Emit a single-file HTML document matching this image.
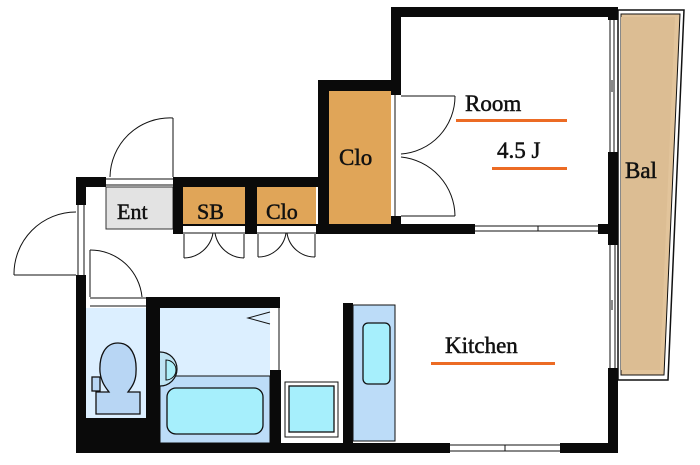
<!DOCTYPE html>
<html><head><meta charset="utf-8"><style>
html,body{margin:0;padding:0;background:#fff;}
svg{display:block;}
text{font-family:"Liberation Serif",serif;fill:#111;stroke:#111;stroke-width:0.5;}
</style></head><body>
<svg width="700" height="465" viewBox="0 0 700 465" xmlns="http://www.w3.org/2000/svg">
<polygon points="618,10 684,10 668,380 618,380" fill="#fff" stroke="#111" stroke-width="1.5"/>
<polygon points="621,14 680,14 664,375 621,375" fill="#e2c49b" stroke="#111" stroke-width="1"/>
<polygon points="621,17 675,17 660,370 621,370" fill="#dcbd93"/>
<rect x="329" y="91" width="62" height="133" fill="#e0a558"/>
<rect x="183" y="187" width="62" height="37" fill="#e0a558"/>
<rect x="257" y="187" width="59" height="37" fill="#e0a558"/>
<rect x="106" y="187" width="67" height="42" fill="#e3e3e3" stroke="#333" stroke-width="1"/>
<rect x="86" y="308" width="62" height="110" fill="#dcefff"/>
<rect x="160" y="308" width="110" height="135" fill="#dcefff"/>
<rect x="160" y="376" width="110" height="67" fill="#bcdcf8" stroke="#111" stroke-width="1"/>
<g fill="#0a0a0a">
<rect x="391" y="7" width="227" height="10"/>
<rect x="391" y="7" width="10" height="88"/>
<rect x="391" y="216" width="10" height="10"/>
<rect x="318" y="80" width="83" height="11"/>
<rect x="318" y="80" width="11" height="154"/>
<rect x="608" y="7" width="10" height="13"/>
<rect x="608" y="152" width="10" height="81"/>
<rect x="316" y="224" width="159" height="10"/>
<rect x="598" y="224" width="20" height="10"/>
<rect x="76" y="177" width="30" height="10"/>
<rect x="173" y="177" width="145" height="10"/>
<rect x="173" y="177" width="10" height="57"/>
<rect x="245" y="177" width="12" height="57"/>
<rect x="173" y="224" width="145" height="2"/>
<rect x="76" y="177" width="10" height="28"/>
<rect x="76" y="275" width="10" height="178"/>
<rect x="146" y="297" width="134" height="11"/>
<rect x="146" y="297" width="14" height="150"/>
<rect x="270" y="370" width="11" height="75"/>
<rect x="86" y="418" width="62" height="35"/>
<rect x="76" y="443" width="374" height="10"/>
<rect x="560" y="443" width="58" height="10"/>
<rect x="608" y="233" width="10" height="12"/>
<rect x="608" y="368" width="10" height="85"/>
<rect x="343" y="303" width="10" height="142"/>
</g>
<g stroke="#111" stroke-width="1" fill="none">
<line x1="610" y1="20" x2="610" y2="152"/><line x1="614" y1="20" x2="614" y2="152"/>
<line x1="612" y1="80" x2="612" y2="92"/>
<line x1="475" y1="226" x2="598" y2="226"/><line x1="475" y1="231" x2="598" y2="231"/>
<line x1="538" y1="226" x2="538" y2="231"/>
<line x1="610" y1="245" x2="610" y2="368"/><line x1="615" y1="245" x2="615" y2="368"/>
<line x1="612" y1="300" x2="612" y2="310"/>
<line x1="450" y1="445" x2="560" y2="445"/><line x1="450" y1="451" x2="560" y2="451"/>
<line x1="505" y1="445" x2="505" y2="451"/>
<line x1="279" y1="308" x2="279" y2="370"/>
<line x1="401" y1="96" x2="455" y2="96"/>
<path d="M455,96 A58,58 0 0 1 401,154"/>
<line x1="401" y1="216" x2="455" y2="216"/>
<path d="M455,216 A60,60 0 0 0 401,157"/>
<line x1="395" y1="95" x2="395" y2="216"/>
<line x1="173" y1="177" x2="173" y2="118"/>
<path d="M173,118 A60,60 0 0 0 110,177"/>
<line x1="106" y1="179" x2="173" y2="179"/><line x1="106" y1="185" x2="173" y2="185"/>
<line x1="14" y1="275" x2="76" y2="275"/>
<path d="M14,275 A62,62 0 0 1 76,212"/>
<line x1="78" y1="205" x2="78" y2="275"/><line x1="84" y1="205" x2="84" y2="275"/>
<line x1="90" y1="297" x2="90" y2="250"/>
<path d="M90,250 A52,52 0 0 1 142,297"/>
<line x1="90" y1="298" x2="146" y2="298"/><line x1="90" y1="306" x2="146" y2="306"/>
<line x1="183" y1="233" x2="245" y2="233"/>
<path d="M184,258 A30,30 0 0 0 213,233"/><path d="M244,258 A30,30 0 0 1 215,233"/>
<line x1="184" y1="234" x2="184" y2="258"/><line x1="244" y1="234" x2="244" y2="258"/>
<line x1="257" y1="233" x2="316" y2="233"/>
<path d="M258,257 A28,28 0 0 0 286,233"/><path d="M315,257 A28,28 0 0 1 287,233"/>
<line x1="258" y1="234" x2="258" y2="257"/><line x1="315" y1="234" x2="315" y2="257"/>
<path d="M270,312 L248,318 L270,324"/>
</g>
<g stroke="#111" stroke-width="1.3" fill="#b8d6f4">
<rect x="92" y="377" width="8" height="14"/>
<path d="M118,343 C105,343 99,356 100,372 C101,382 106,388 109,392 L96,392 L96,414 L140,414 L140,392 L128,392 C131,388 136,382 136,372 C137,356 131,343 118,343 Z"/>
</g>
<path d="M160,352 A15,15 0 0 1 160,386" fill="#bfe4f4" stroke="#111" stroke-width="1.2"/>
<path d="M166,360 L166,380 A10,10 0 0 0 166,360 Z" fill="#aef0fa" stroke="#111" stroke-width="1"/>
<rect x="167" y="388" width="96" height="46" rx="9" fill="#a6effc" stroke="#111" stroke-width="1.3"/>
<rect x="285" y="382" width="53" height="55" fill="#fff" stroke="#111" stroke-width="1"/>
<rect x="289" y="386" width="45" height="46" fill="#a6effc" stroke="#111" stroke-width="1.3"/>
<rect x="353" y="305" width="42" height="136" fill="#bcdcf8" stroke="#111" stroke-width="1"/>
<rect x="363" y="323" width="27" height="61" rx="5" fill="#a6effc" stroke="#111" stroke-width="1.3"/>
<text x="465" y="111" font-size="23">Room</text>
<rect x="456" y="119" width="111" height="3" fill="#ec6b24"/>
<text x="497" y="158" font-size="23">4.5 J</text>
<rect x="492" y="167" width="75" height="3" fill="#ec6b24"/>
<text x="625" y="178" font-size="23">Bal</text>
<text x="445" y="353" font-size="23">Kitchen</text>
<rect x="431" y="362" width="124" height="3" fill="#ec6b24"/>
<text x="339" y="165" font-size="23">Clo</text>
<text x="117" y="219" font-size="22">Ent</text>
<text x="197" y="219" font-size="22">SB</text>
<text x="266" y="219" font-size="22">Clo</text>
</svg>
</body></html>
